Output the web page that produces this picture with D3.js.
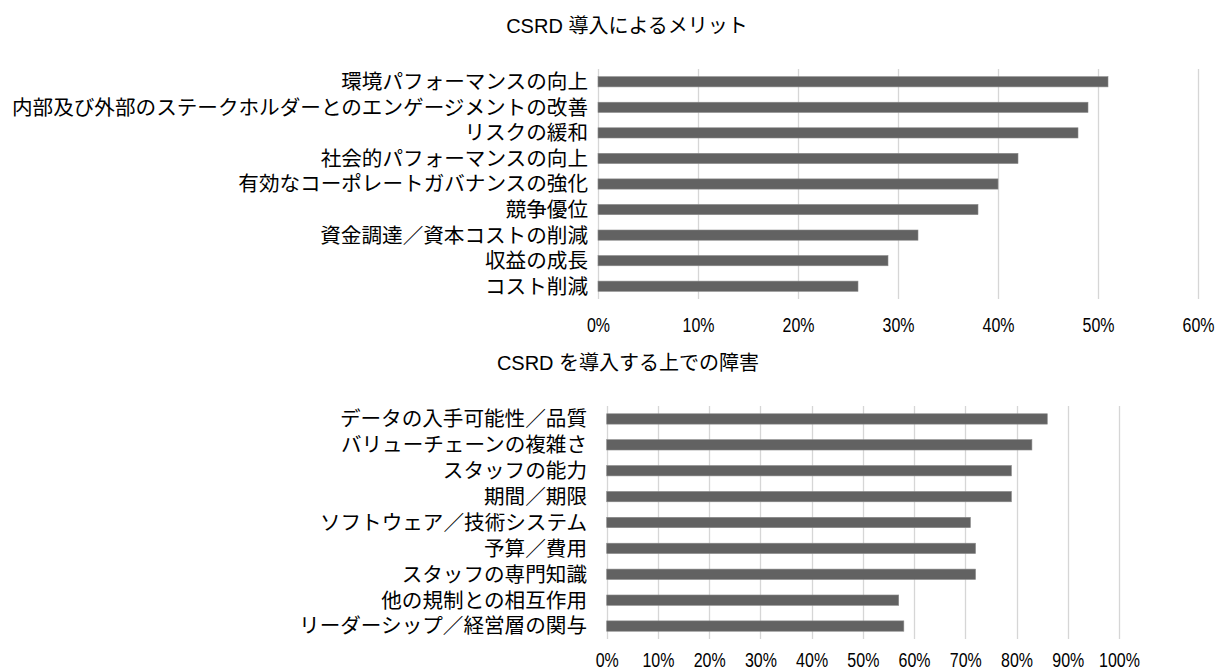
<!DOCTYPE html>
<html>
<head>
<meta charset="utf-8">
<script src="https://cdn.jsdelivr.net/npm/d3@7"></script>
<style>
  html, body { margin: 0; padding: 0; background: #fff; }
  svg text { fill: #000; }
  .lbl { font-family: "Liberation Sans", "Noto Sans CJK JP", sans-serif; }
  .tick-lbl { font-family: "Liberation Sans", "Noto Sans CJK JP", sans-serif; }
</style>
</head>
<body>
<svg id="chart" width="1216" height="671"></svg>
<script>
// ---- Data ----
const title1 = "CSRD 導入によるメリット";
const categories1 = [
  "環境パフォーマンスの向上",
  "内部及び外部のステークホルダーとのエンゲージメントの改善",
  "リスクの緩和",
  "社会的パフォーマンスの向上",
  "有効なコーポレートガバナンスの強化",
  "競争優位",
  "資金調達／資本コストの削減",
  "収益の成長",
  "コスト削減"
];
const values1 = [51, 49, 48, 42, 40, 38, 32, 29, 26];
const ticks1 = [0, 10, 20, 30, 40, 50, 60];

const title2 = "CSRD を導入する上での障害";
const categories2 = [
  "データの入手可能性／品質",
  "バリューチェーンの複雑さ",
  "スタッフの能力",
  "期間／期限",
  "ソフトウェア／技術システム",
  "予算／費用",
  "スタッフの専門知識",
  "他の規制との相互作用",
  "リーダーシップ／経営層の関与"
];
const values2 = [86, 83, 79, 79, 71, 72, 72, 57, 58];
const ticks2 = [0, 10, 20, 30, 40, 50, 60, 70, 80, 90, 100];

// ---- Drawing ----
const svg = d3.select("#chart");

function drawPanel(cfg) {
  const g = svg.append("g");
  const x = d3.scaleLinear().domain([0, cfg.max]).range([cfg.x0, cfg.x1]);
  const y = d3.scaleBand().domain(cfg.categories).range([cfg.y0, cfg.y1]).paddingInner(0.6).paddingOuter(0.3);

  // title
  g.append("text")
    .attr("class", "lbl")
    .attr("x", cfg.titleX)
    .attr("y", cfg.titleY)
    .attr("text-anchor", "middle")
    .style("font-size", "20px")
    .text(cfg.title);

  // gridlines
  g.selectAll("line.grid").data(cfg.ticks).enter().append("line")
    .attr("class", "grid")
    .attr("x1", d => Math.round(x(d)) + 0.5)
    .attr("x2", d => Math.round(x(d)) + 0.5)
    .attr("y1", cfg.y0)
    .attr("y2", cfg.y1)
    .attr("stroke", "#d6d6d6")
    .attr("stroke-width", 1.3);

  // bars
  g.selectAll("rect.bar").data(cfg.values).enter().append("rect")
    .attr("class", "bar")
    .attr("x", x(0))
    .attr("y", (d, i) => y(cfg.categories[i]))
    .attr("width", d => x(d) - x(0))
    .attr("height", y.bandwidth())
    .attr("fill", "#626262")
    .attr("stroke", "#8a8a8a")
    .attr("stroke-width", 0.6);

  // category labels
  g.selectAll("text.cat").data(cfg.categories).enter().append("text")
    .attr("class", "lbl cat")
    .attr("x", cfg.labelRight)
    .attr("y", d => y(d) + y.bandwidth() / 2)
    .attr("dy", "0.36em")
    .attr("text-anchor", "end")
    .style("font-size", "20.6px")
    .text(d => d);

  // x axis tick labels
  const axis = d3.axisBottom(x).tickValues(cfg.ticks).tickSize(0).tickPadding(0)
    .tickFormat(d => d + "%");
  const ax = g.append("g").attr("transform", `translate(0,${cfg.tickY})`).call(axis);
  ax.select(".domain").remove();
  ax.selectAll("text")
    .attr("class", "tick-lbl")
    .attr("dy", 0)
    .attr("transform", "scale(0.82,1)")
    .style("font-size", "19.5px")
    .attr("fill", "#000");
}

drawPanel({
  title: title1, categories: categories1, values: values1, ticks: ticks1, max: 60,
  x0: 598, x1: 1198, y0: 69, y1: 299, labelRight: 588, tickY: 332,
  titleX: 627, titleY: 33
});

drawPanel({
  title: title2, categories: categories2, values: values2, ticks: ticks2, max: 100,
  x0: 606.7, x1: 1119, y0: 406, y1: 639, labelRight: 587, tickY: 666.5,
  titleX: 628, titleY: 370
});
</script>
</body>
</html>
